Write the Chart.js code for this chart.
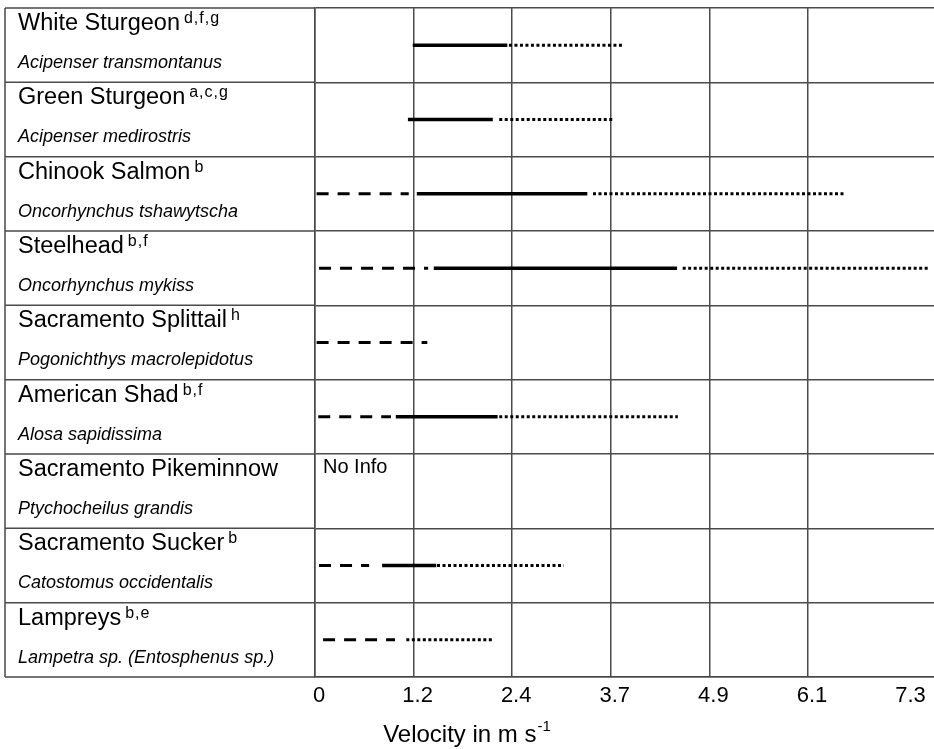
<!DOCTYPE html>
<html>
<head>
<meta charset="utf-8">
<script src="https://cdn.jsdelivr.net/npm/chart.js@4.4.1/dist/chart.umd.min.js"></script>
<style>
html, body { margin: 0; padding: 0; background: #ffffff; }
#wrap { width: 934px; height: 749px; position: relative; }
</style>
</head>
<body>
<div id="wrap"><canvas id="c"></canvas></div>
<script>
// ---- data ----
const species = ['White Sturgeon', 'Green Sturgeon', 'Chinook Salmon', 'Steelhead', 'Sacramento Splittail',
  'American Shad', 'Sacramento Pikeminnow', 'Sacramento Sucker', 'Lampreys'];
const superscripts = ['d,f,g', 'a,c,g', 'b', 'b,f', 'h', 'b,f', '', 'b', 'b,e'];
const scientific = ['Acipenser transmontanus', 'Acipenser medirostris', 'Oncorhynchus tshawytscha',
  'Oncorhynchus mykiss', 'Pogonichthys macrolepidotus', 'Alosa sapidissima', 'Ptychocheilus grandis',
  'Catostomus occidentalis', 'Lampetra sp. (Entosphenus sp.)'];
const noInfo = [false, false, false, false, false, false, true, false, false];

const dashedStart = [null, null, 0.02, 0.05, 0.02, 0.04, null, 0.05, 0.10];
const dashedEnd   = [null, null, 1.16, 1.40, 1.39, 0.94, null, 0.67, 0.99];
const solidStart  = [1.21, 1.15, 1.26, 1.47, null, 1.00, null, 0.83, null];
const solidEnd    = [2.38, 2.20, 3.37, 4.48, null, 2.26, null, 1.50, null];
const dottedStart = [2.40, 2.28, 3.44, 4.55, null, 2.28, null, 1.51, 1.13];
const dottedEnd   = [3.81, 3.70, 6.55, 7.61, null, 4.49, null, 3.08, 2.20];

const tickValues = [0, 1.22, 2.44, 3.66, 4.88, 6.10, 7.32];
const tickLabels = ['0', '1.2', '2.4', '3.7', '4.9', '6.1', '7.3'];
const xMax = 7.66;

// ---- styles ----
const FONT = "'Liberation Sans', Arial, sans-serif";
const GRID = '#4a4a4a';
const GRID_W = 1.5;
const PANEL_LEFT = 5;

const datasets = [];
function addSeg(starts, ends, dash, width) {
  species.forEach((sp, i) => {
    if (starts[i] == null) return;
    datasets.push({
      data: [{ x: starts[i], y: sp }, { x: ends[i], y: sp }],
      borderColor: '#000000',
      borderWidth: width,
      borderDash: dash,
      borderCapStyle: 'butt',
      pointRadius: 0,
      fill: false,
      tension: 0
    });
  });
}
addSeg(dashedStart, dashedEnd, [12, 9], 3);
addSeg(solidStart, solidEnd, [], 3.5);
addSeg(dottedStart, dottedEnd, [3, 2.5], 3);

const sidePanel = {
  id: 'sidePanel',
  beforeDraw(chart) {
    const ctx = chart.ctx;
    ctx.save();
    ctx.fillStyle = '#ffffff';
    ctx.fillRect(0, 0, chart.width, chart.height);
    ctx.restore();
  },
  afterDraw(chart) {
    const ctx = chart.ctx;
    const ca = chart.chartArea;
    const ys = chart.scales.y;
    const band = (ca.bottom - ca.top) / species.length;
    ctx.save();
    ctx.strokeStyle = GRID;
    ctx.lineWidth = GRID_W;
    ctx.beginPath();
    ctx.moveTo(PANEL_LEFT, ca.top);
    ctx.lineTo(PANEL_LEFT, ca.bottom);
    for (let i = 0; i <= species.length; i++) {
      const yy = ca.top + i * band;
      ctx.moveTo(PANEL_LEFT, yy);
      ctx.lineTo(ca.left, yy);
    }
    ctx.stroke();

    ctx.fillStyle = '#000000';
    ctx.textBaseline = 'alphabetic';
    ctx.textAlign = 'left';
    species.forEach((sp, i) => {
      const top = ys.getPixelForValue(i) - band / 2;
      ctx.font = '23.5px ' + FONT;
      ctx.letterSpacing = '0px';
      ctx.fillText(sp, 18, top + 22);
      const w = ctx.measureText(sp).width;
      if (superscripts[i]) {
        ctx.font = '16px ' + FONT;
        ctx.letterSpacing = '1px';
        ctx.fillText(superscripts[i], 18 + w + 4, top + 15);
        ctx.letterSpacing = '0px';
      }
      ctx.font = 'italic 18px ' + FONT;
      ctx.fillText(scientific[i], 18, top + 60);
      if (noInfo[i]) {
        ctx.font = '20px ' + FONT;
        ctx.fillText('No Info', ca.left + 8, top + 19);
      }
    });

    // axis title with superscript
    const t = 'Velocity in m s';
    const s = '-1';
    ctx.font = '24px ' + FONT;
    const tw = ctx.measureText(t).width;
    ctx.font = '15px ' + FONT;
    const sw = ctx.measureText(s).width;
    const x0 = chart.width / 2 - (tw + sw + 1) / 2;
    ctx.font = '24px ' + FONT;
    ctx.fillText(t, x0, 742);
    ctx.font = '15px ' + FONT;
    ctx.fillText(s, x0 + tw + 1, 731);
    ctx.restore();
  }
};

new Chart(document.getElementById('c'), {
  type: 'line',
  data: { labels: species, datasets: datasets },
  plugins: [sidePanel],
  options: {
    responsive: true,
    maintainAspectRatio: false,
    animation: false,
    layout: { padding: { left: 315, top: 8, right: 0, bottom: 0 } },
    plugins: { legend: { display: false }, tooltip: { enabled: false } },
    scales: {
      x: {
        type: 'linear',
        min: 0,
        max: xMax,
        afterBuildTicks: (scale) => { scale.ticks = tickValues.map(v => ({ value: v })); },
        afterFit: (scale) => { scale.height = 72; },
        ticks: {
          autoSkip: false,
          maxRotation: 0,
          padding: 6,
          labelOffset: 4,
          color: '#000000',
          font: { family: FONT, size: 22 },
          callback: (v, idx) => tickLabels[idx]
        },
        grid: {
          drawTicks: false,
          color: (ctx) => (ctx.tick && ctx.tick.value > 7 ? 'rgba(0,0,0,0)' : GRID),
          lineWidth: GRID_W
        },
        border: { display: true, color: GRID, width: GRID_W }
      },
      y: {
        type: 'category',
        offset: true,
        afterFit: (scale) => { scale.width = 0; },
        ticks: { display: false },
        grid: { offset: true, drawTicks: false, color: GRID, lineWidth: GRID_W },
        border: { display: true, color: GRID, width: GRID_W }
      }
    }
  }
});
</script>
</body>
</html>
